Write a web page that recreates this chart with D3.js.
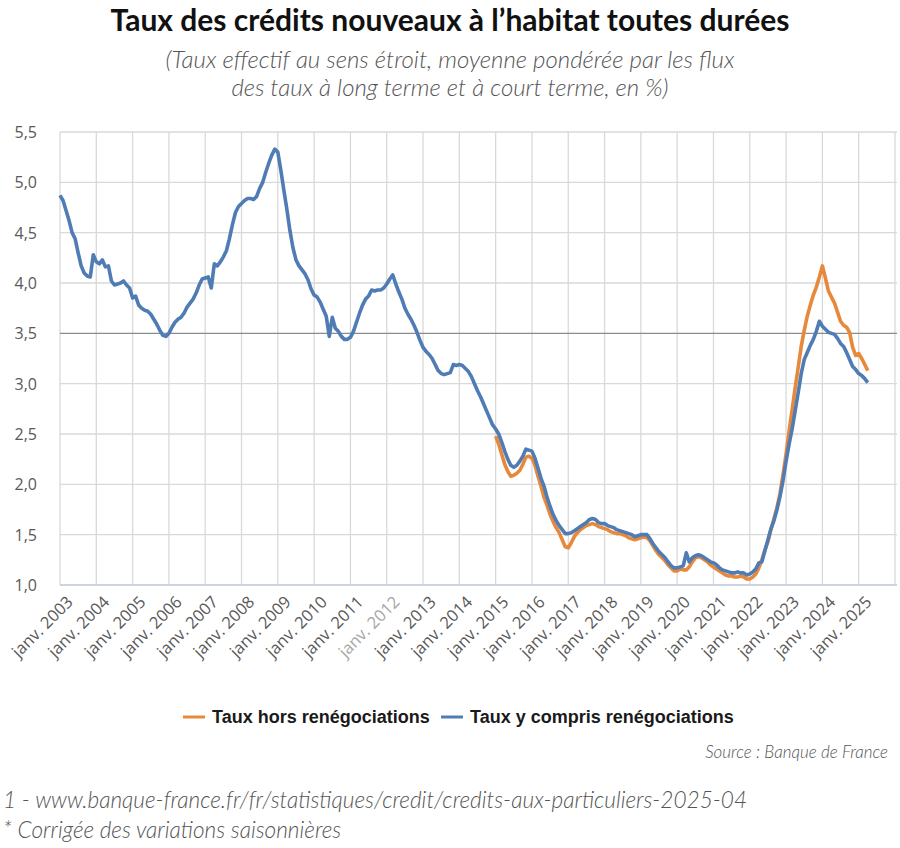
<!DOCTYPE html>
<html>
<head>
<meta charset="utf-8">
<script src="https://cdn.jsdelivr.net/npm/d3@7"></script>
<style>
  body { margin: 0; background: #fff; }
  svg { display: block; }
</style>
</head>
<body>
<div id="chart"></div>
<script>
// Monthly series, first value = janv. 2003
const startYear = 2003;

// Taux y compris renégociations (janv. 2003 -> avr. 2025)
const tauxYCompris = [
  4.87, 4.82, 4.72, 4.62, 4.50, 4.44, 4.30, 4.17, 4.10, 4.07, 4.06, 4.28, // 2003
  4.21, 4.19, 4.23, 4.16, 4.17, 4.02, 3.98, 3.99, 4.00, 4.02, 3.98, 3.95, // 2004
  3.85, 3.87, 3.78, 3.75, 3.73, 3.72, 3.69, 3.64, 3.59, 3.53, 3.48, 3.47, // 2005
  3.50, 3.56, 3.61, 3.64, 3.66, 3.70, 3.76, 3.80, 3.84, 3.90, 3.98, 4.04, // 2006
  4.05, 4.06, 3.95, 4.19, 4.17, 4.21, 4.26, 4.32, 4.44, 4.58, 4.70, 4.76, // 2007
  4.79, 4.82, 4.84, 4.84, 4.83, 4.86, 4.94, 5.00, 5.10, 5.19, 5.27, 5.33, // 2008
  5.30, 5.12, 4.92, 4.73, 4.52, 4.35, 4.23, 4.17, 4.13, 4.09, 4.03, 3.94, // 2009
  3.88, 3.86, 3.81, 3.74, 3.67, 3.47, 3.66, 3.55, 3.52, 3.47, 3.44, 3.44, // 2010
  3.46, 3.52, 3.61, 3.70, 3.78, 3.84, 3.87, 3.93, 3.92, 3.93, 3.93, 3.95, // 2011
  3.99, 4.04, 4.08, 3.99, 3.91, 3.84, 3.75, 3.69, 3.64, 3.58, 3.51, 3.43, // 2012
  3.36, 3.32, 3.29, 3.25, 3.19, 3.13, 3.10, 3.09, 3.10, 3.11, 3.19, 3.18, // 2013
  3.19, 3.18, 3.15, 3.12, 3.07, 3.00, 2.93, 2.87, 2.80, 2.73, 2.66, 2.59, // 2014
  2.55, 2.50, 2.42, 2.33, 2.25, 2.19, 2.17, 2.19, 2.23, 2.28, 2.35, 2.34, // 2015
  2.33, 2.26, 2.16, 2.06, 1.98, 1.87, 1.78, 1.70, 1.64, 1.59, 1.55, 1.51, // 2016
  1.51, 1.52, 1.54, 1.56, 1.58, 1.60, 1.62, 1.65, 1.66, 1.65, 1.62, 1.61, // 2017
  1.61, 1.59, 1.58, 1.57, 1.55, 1.54, 1.53, 1.52, 1.51, 1.50, 1.48, 1.49, // 2018
  1.50, 1.50, 1.50, 1.46, 1.41, 1.37, 1.33, 1.30, 1.27, 1.23, 1.19, 1.17, // 2019
  1.17, 1.18, 1.19, 1.32, 1.23, 1.27, 1.29, 1.30, 1.29, 1.27, 1.25, 1.23, // 2020
  1.22, 1.20, 1.17, 1.15, 1.14, 1.13, 1.12, 1.12, 1.13, 1.12, 1.12, 1.10, // 2021
  1.11, 1.13, 1.16, 1.22, 1.23, 1.34, 1.45, 1.56, 1.64, 1.75, 1.88, 2.04, // 2022
  2.23, 2.40, 2.55, 2.73, 2.91, 3.10, 3.24, 3.31, 3.38, 3.44, 3.52, 3.62, // 2023
  3.57, 3.54, 3.51, 3.50, 3.49, 3.45, 3.40, 3.37, 3.31, 3.24, 3.17, 3.14, // 2024
  3.10, 3.08, 3.05, 3.01                                                  // 2025
];

// Taux hors renégociations (janv. 2015 -> avr. 2025)
const horsStartYear = 2015;
const tauxHors = [
  2.48, 2.40, 2.30, 2.20, 2.13, 2.08, 2.09, 2.11, 2.14, 2.20, 2.27, 2.28, // 2015
  2.26, 2.19, 2.08, 1.98, 1.87, 1.79, 1.70, 1.63, 1.57, 1.52, 1.45, 1.38, // 2016
  1.37, 1.42, 1.48, 1.52, 1.55, 1.57, 1.59, 1.60, 1.61, 1.60, 1.58, 1.57, // 2017
  1.56, 1.55, 1.53, 1.52, 1.51, 1.51, 1.50, 1.49, 1.47, 1.46, 1.45, 1.46, // 2018
  1.47, 1.48, 1.47, 1.44, 1.39, 1.34, 1.30, 1.27, 1.24, 1.20, 1.17, 1.14, // 2019
  1.14, 1.16, 1.15, 1.15, 1.18, 1.23, 1.27, 1.28, 1.27, 1.25, 1.23, 1.20, // 2020
  1.18, 1.16, 1.14, 1.12, 1.10, 1.09, 1.09, 1.08, 1.08, 1.09, 1.08, 1.06, // 2021
  1.06, 1.08, 1.11, 1.17, 1.25, 1.35, 1.43, 1.55, 1.66, 1.77, 1.91, 2.10, // 2022
  2.30, 2.53, 2.74, 2.96, 3.16, 3.37, 3.53, 3.67, 3.78, 3.88, 3.96, 4.06, // 2023
  4.17, 4.05, 3.92, 3.86, 3.80, 3.71, 3.62, 3.58, 3.56, 3.51, 3.36, 3.28, // 2024
  3.30, 3.25, 3.19, 3.13                                                  // 2025
];

const yTicks = [1.0, 1.5, 2.0, 2.5, 3.0, 3.5, 4.0, 4.5, 5.0, 5.5];
const xTickYears = d3.range(2003, 2026);

const width = 900, height = 848;
const nMonths = (2026 - startYear) * 12;

const svg = d3.select("#chart").append("svg")
    .attr("width", width)
    .attr("height", height);

const x = d3.scaleLinear().domain([0, nMonths]).range([60, 895]);
const y = d3.scaleLinear().domain([1, 5.5]).range([585, 132]);

// titles
svg.append("text")
    .attr("x", 450).attr("y", 31)
    .attr("text-anchor", "middle")
    .attr("font-family", "Lato, 'Open Sans', sans-serif")
    .attr("font-weight", "bold")
    .attr("font-size", "30px")
    .attr("fill", "#111")
    .text("Taux des crédits nouveaux à l’habitat toutes durées");

const subLines = [
    "(Taux effectif au sens étroit, moyenne pondérée par les flux",
    "des taux à long terme et à court terme, en %)"
];
svg.append("g").selectAll("text")
    .data(subLines)
    .join("text")
    .attr("x", 450)
    .attr("y", function(d, i) { return 68 + i * 28; })
    .attr("text-anchor", "middle")
    .attr("font-family", "Lato, 'Open Sans', sans-serif")
    .attr("font-style", "italic")
    .attr("font-weight", 300)
    .attr("font-size", "24px")
    .attr("fill", "#555")
    .text(function(d) { return d; });

// grid
const grid = svg.append("g");
grid.selectAll("line.v")
    .data(xTickYears.concat([2026]))
    .join("line")
    .attr("x1", function(d) { return x((d - startYear) * 12); })
    .attr("x2", function(d) { return x((d - startYear) * 12); })
    .attr("y1", y(5.5)).attr("y2", y(1))
    .attr("stroke", "#d9d9d9")
    .attr("stroke-width", 1.3);

grid.selectAll("line.h")
    .data(yTicks.filter(function(d) { return d !== 1; }))
    .join("line")
    .attr("x1", 60).attr("x2", 897)
    .attr("y1", function(d) { return y(d); })
    .attr("y2", function(d) { return y(d); })
    .attr("stroke", function(d) { return d === 3.5 ? "#8c8c8c" : "#d9d9d9"; })
    .attr("stroke-width", function(d) { return d === 3.5 ? 1.4 : 1.3; });

grid.append("line")
    .attr("x1", 60).attr("x2", 897)
    .attr("y1", y(1)).attr("y2", y(1))
    .attr("stroke", "#bcc6d4")
    .attr("stroke-width", 1.6);

// y labels
svg.append("g").selectAll("text")
    .data(yTicks)
    .join("text")
    .attr("x", 37)
    .attr("y", function(d) { return y(d) + 6; })
    .attr("text-anchor", "end")
    .attr("font-family", "'Open Sans', sans-serif")
    .attr("font-size", "16px")
    .attr("fill", "#595959")
    .text(function(d) { return d3.format(".1f")(d).replace(".", ","); });

// x labels
svg.append("g").selectAll("text")
    .data(xTickYears)
    .join("text")
    .attr("transform", function(d) {
        return "translate(" + (x((d - startYear) * 12) + 14) + ",603) rotate(-45)";
    })
    .attr("text-anchor", "end")
    .attr("font-family", "'Open Sans', sans-serif")
    .attr("font-size", "16.5px")
    .attr("fill", function(d) { return d === 2012 ? "#a6a6a6" : "#595959"; })
    .text(function(d) { return "janv. " + d; });

// lines
const line = d3.line()
    .x(function(d) { return x(d.m); })
    .y(function(d) { return y(d.v); });

const blueData = tauxYCompris.map(function(v, i) { return {m: i, v: v}; });
const orangeOffset = (horsStartYear - startYear) * 12;
const orangeData = tauxHors.map(function(v, i) { return {m: i + orangeOffset, v: v}; });

svg.append("path")
    .datum(orangeData)
    .attr("d", line)
    .attr("fill", "none")
    .attr("stroke", "#e8883a")
    .attr("stroke-width", 3.6)
    .attr("stroke-linejoin", "round");

svg.append("path")
    .datum(blueData)
    .attr("d", line)
    .attr("fill", "none")
    .attr("stroke", "#4f7cb4")
    .attr("stroke-width", 3.6)
    .attr("stroke-linejoin", "round");

// legend
const legend = [
    {label: "Taux hors renégociations", color: "#e8883a", x: 183},
    {label: "Taux y compris renégociations", color: "#4f7cb4", x: 441}
];
const lg = svg.append("g").selectAll("g")
    .data(legend)
    .join("g");
lg.append("line")
    .attr("x1", function(d) { return d.x; })
    .attr("x2", function(d) { return d.x + 22; })
    .attr("y1", 717).attr("y2", 717)
    .attr("stroke", function(d) { return d.color; })
    .attr("stroke-width", 3);
lg.append("text")
    .attr("x", function(d) { return d.x + 29; })
    .attr("y", 723)
    .attr("font-family", "'Liberation Sans', Arial, sans-serif")
    .attr("font-weight", "bold")
    .attr("font-size", "18px")
    .attr("fill", "#1a1a1a")
    .text(function(d) { return d.label; });

// source and notes
svg.append("text")
    .attr("x", 888).attr("y", 758)
    .attr("text-anchor", "end")
    .attr("font-family", "Lato, sans-serif")
    .attr("font-style", "italic")
    .attr("font-weight", 300)
    .attr("font-size", "17px")
    .attr("fill", "#555")
    .text("Source : Banque de France");

svg.append("text")
    .attr("x", 3).attr("y", 808)
    .attr("font-family", "Lato, sans-serif")
    .attr("font-style", "italic")
    .attr("font-weight", 300)
    .attr("font-size", "22.6px")
    .attr("fill", "#555")
    .text("1 - www.banque-france.fr/fr/statistiques/credit/credits-aux-particuliers-2025-04");

svg.append("text")
    .attr("x", 3).attr("y", 838)
    .attr("font-family", "Lato, sans-serif")
    .attr("font-style", "italic")
    .attr("font-weight", 300)
    .attr("font-size", "22.6px")
    .attr("fill", "#555")
    .text("* Corrigée des variations saisonnières");
</script>
</body>
</html>
